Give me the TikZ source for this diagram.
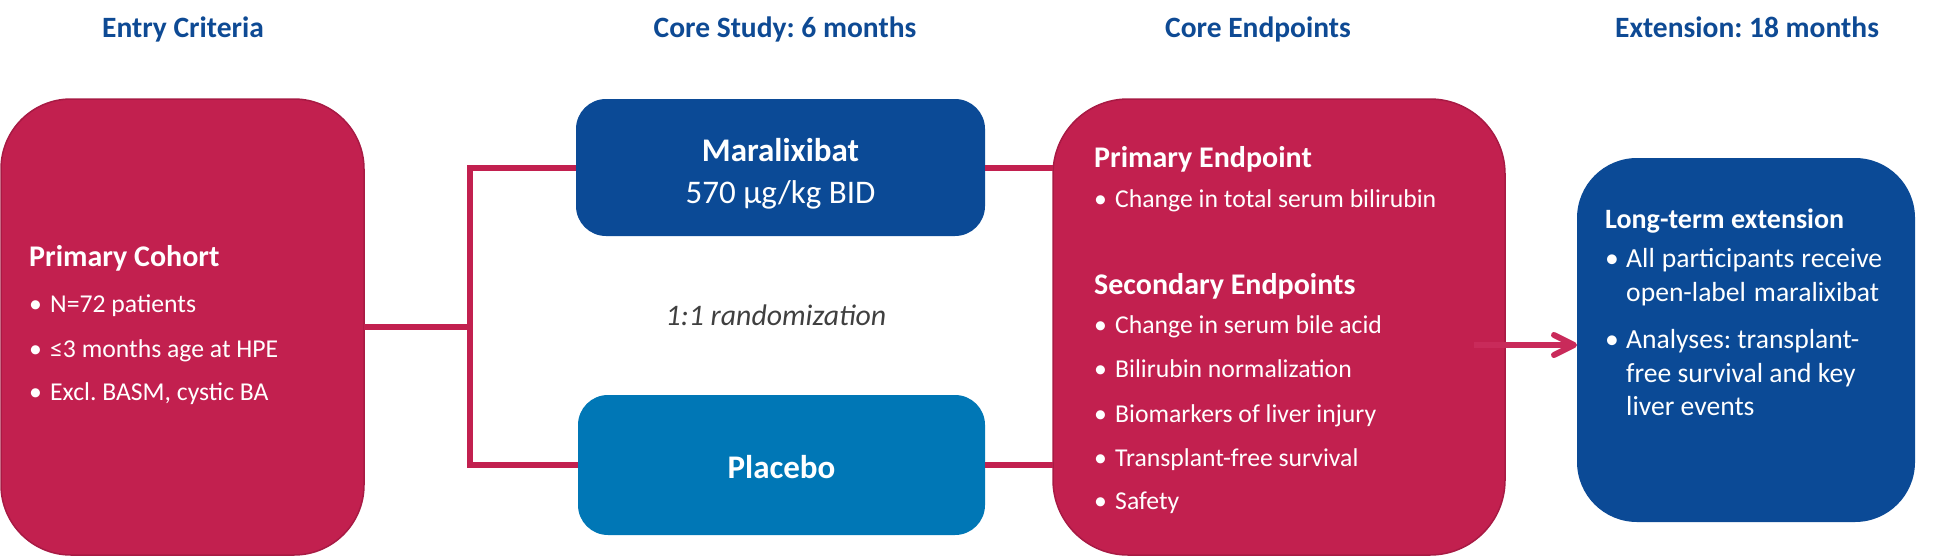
\documentclass[tikz,border=0pt]{standalone}
\usepackage{fontspec}
\setmainfont{Carlito}
\usetikzlibrary{arrows.meta}
\frenchspacing
\definecolor{crim}{HTML}{C2204F}
\definecolor{crimedge}{HTML}{A81A44}
\definecolor{arrcol}{HTML}{C92A5A}
\definecolor{navy}{HTML}{0B4A96}
\definecolor{sky}{HTML}{0077B6}
\definecolor{hdr}{HTML}{0E4A94}
\definecolor{grayt}{HTML}{404040}
\newcommand\bul{\makebox[21pt][l]{•}}
\newcommand\ind{\hspace*{21pt}}
\newcommand\tline[5]{\node[#1] (#2) at (#3,#4) {#5};}
\begin{document}
\begin{tikzpicture}[x=1pt,y=-1pt,
  panel/.style={rectangle, inner sep=0pt, outer sep=0pt},
  hdrtext/.style={text=hdr, font=\bfseries\fontsize{29.5}{32}\selectfont, anchor=base, inner sep=0pt},
  body/.style={text=white, anchor=base west, inner sep=0pt, font=\fontsize{25.7}{30}\selectfont},
  extbody/.style={body, font=\fontsize{27.6}{32}\selectfont},
  head/.style={text=white, anchor=base west, inner sep=0pt, font=\bfseries\fontsize{30}{34}\selectfont},
  big/.style={text=white, anchor=base, inner sep=0pt, font=\fontsize{33}{38}\selectfont},
  conn/.style={draw=crim, line width=6pt},
  arr/.style={draw=arrcol, line width=6pt, -{Straight Barb[length=20pt, width=20pt, round]}}
]
\useasboundingbox (0,0) rectangle (1950,557);

% headers
\node[hdrtext] (h1) at (183,37) {Entry Criteria};
\node[hdrtext] (h2) at (785,37) {Core Study: 6 months};
\node[hdrtext] (h3) at (1258,37) {Core Endpoints};
\node[hdrtext] (h4) at (1747,37) {Extension: 18 months};

% boxes
\node[panel, fill=crim, draw=crimedge, line width=1.5pt, rounded corners=70pt,
      minimum width=363pt, minimum height=456pt] (cohort) at (182.5,327) {};
\node[panel, fill=navy, rounded corners=30pt,
      minimum width=409pt, minimum height=137pt] (mara) at (780.5,167.5) {};
\node[panel, fill=sky, rounded corners=30pt,
      minimum width=407pt, minimum height=140pt] (placebo) at (781.5,465) {};
\node[panel, fill=crim, draw=crimedge, line width=1.5pt, rounded corners=75pt,
      minimum width=452pt, minimum height=456pt] (endp) at (1279,327) {};
\node[panel, fill=navy, rounded corners=60pt,
      minimum width=338pt, minimum height=364pt] (ext) at (1746,340) {};

% connectors
\coordinate (fork) at (470,327);
\draw[conn] (cohort.east) -- (fork);
\draw[conn] (mara.west) -| (fork) |- (placebo.west);
\draw[conn] (mara.east) -- (mara.east -| endp.west);
\draw[conn] (placebo.east) -- (placebo.east -| endp.west);
\coordinate (astart) at (1474,345);
\draw[arr] (astart) -- (ext.west |- astart);

% cohort texts
\tline{head}{c0}{29}{266}{Primary Cohort}
\tline{body}{c1}{29}{312}{\bul N=72 patients}
\tline{body}{c2}{29}{357}{\bul ≤3 months age at HPE}
\tline{body}{c3}{29}{400}{\bul Excl. BASM, cystic BA}

% arms
\tline{big, font=\bfseries\fontsize{33}{38}\selectfont}{maratitle}{780.5}{161}{Maralixibat}
\tline{big}{maradose}{780.5}{203}{570 µg/kg BID}
\tline{big, text=grayt, font=\itshape\fontsize{29.8}{34}\selectfont}{rand}{776}{325}{1:1 randomization}
\tline{big, font=\bfseries\fontsize{33}{38}\selectfont}{plabel}{781.5}{478}{Placebo}

% endpoints texts
\tline{head}{e0}{1094}{167}{Primary Endpoint}
\tline{body}{e1}{1094}{207}{\bul Change in total serum bilirubin}
\tline{head}{e2}{1094}{294}{Secondary Endpoints}
\tline{body}{e3}{1094}{333}{\bul Change in serum bile acid}
\tline{body}{e4}{1094}{377}{\bul Bilirubin normalization}
\tline{body}{e5}{1094}{422}{\bul Biomarkers of liver injury}
\tline{body}{e6}{1094}{466}{\bul Transplant-free survival}
\tline{body}{e7}{1094}{509}{\bul Safety}

% extension texts
\tline{head, font=\bfseries\fontsize{28}{32}\selectfont}{x0}{1605}{228}{Long-term extension}
\tline{extbody}{x1}{1605}{267}{\bul\makebox[256pt][s]{All participants receive}}
\tline{extbody}{x2}{1605}{301}{\ind\makebox[253pt][s]{open-label maralixibat}}
\tline{extbody}{x3}{1605}{348}{\bul Analyses: transplant-}
\tline{extbody}{x4}{1605}{382}{\ind free survival and key}
\tline{extbody}{x5}{1605}{415}{\ind liver\ events}
\end{tikzpicture}
\end{document}
